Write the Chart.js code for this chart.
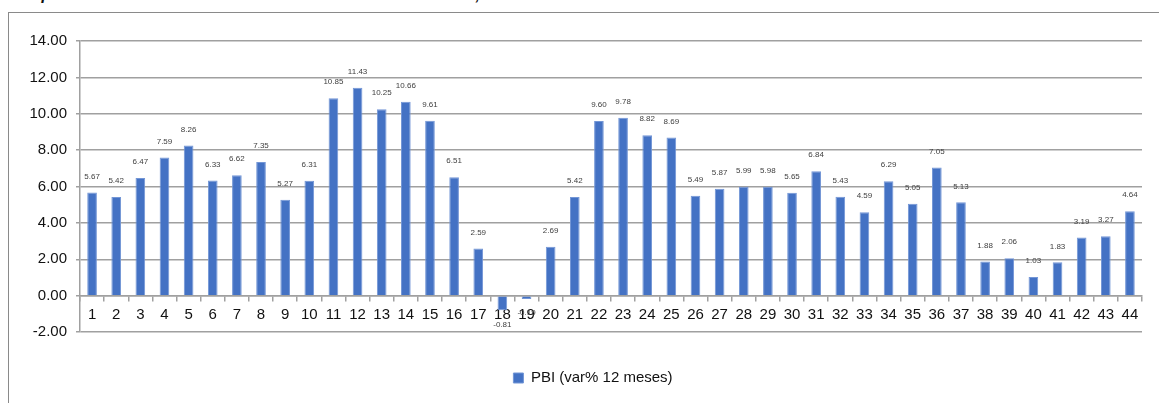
<!DOCTYPE html>
<html>
<head>
<meta charset="utf-8">
<script src="https://cdn.jsdelivr.net/npm/chart.js@4/dist/chart.umd.min.js"></script>
<style>
    html, body { margin: 0; padding: 0; background: #fff; overflow: hidden; }
    #wrap { position: relative; width: 1159px; height: 403px; }
    #frame { position: absolute; left: 8px; top: 12px; width: 1200px; height: 450px; border-left: 1px solid #8a8a8a; border-top: 1px solid #8a8a8a; }
    #title { position: absolute; left: 6px; top: -13px; font: italic bold 16px/16px "Liberation Sans", Arial, sans-serif; color: #111; white-space: nowrap; }
    #myChart { position: absolute; left: 0; top: 0; }
</style>
</head>
<body>
<div id="wrap">
    <div id="title">Comportamiento mensual de la actividad económica nacional, 2013 - 2016</div>
    <div id="frame"></div>
    <canvas id="myChart" width="1159" height="403"></canvas>
</div>
<script>
const months = ['1', '2', '3', '4', '5', '6', '7', '8', '9', '10', '11', '12', '13', '14', '15', '16', '17', '18', '19', '20', '21', '22',
    '23', '24', '25', '26', '27', '28', '29', '30', '31', '32', '33', '34', '35', '36', '37', '38', '39', '40', '41', '42', '43', '44']
const pbiVar = [5.67, 5.42, 6.47, 7.59, 8.26, 6.33, 6.62, 7.35, 5.27, 6.31, 10.85, 11.43, 10.25, 10.66, 9.61, 6.51, 2.59, -0.81, -0.19, 2.69, 5.42, 9.60,
    9.78, 8.82, 8.69, 5.49, 5.87, 5.99, 5.98, 5.65, 6.84, 5.43, 4.59, 6.29, 5.05, 7.05, 5.13, 1.88, 2.06, 1.03, 1.83, 3.19, 3.27, 4.64]
const seriesLabel = 'PBI (var% 12 meses)'
const yTicks = [-2, 0, 2, 4, 6, 8, 10, 12, 14]

const gridGray = '#a0a0a0';
const fontName = '"Liberation Sans", Arial, sans-serif';

// value labels above (or below for negatives) each bar
const barValues = {
    id: 'barValues',
    afterDatasetsDraw(chart) {
        let ctx = chart.ctx;
        ctx.save();
        ctx.font = '8px ' + fontName;
        ctx.fillStyle = '#404040';
        ctx.textAlign = 'center';
        ctx.textBaseline = 'middle';
        chart.getDatasetMeta(0).data.forEach(function (bar, i) {
            let v = pbiVar[i];
            let y = v >= 0 ? bar.y - 16 : bar.y + 14;
            ctx.fillText(v.toFixed(2), bar.x, y);
        });
        ctx.restore();
    }
};

// legend sits a little right of the canvas centre in the original
const legendShift = {
    id: 'legendShift',
    afterLayout(chart) {
        chart.legend.left += 22;
        chart.legend.right += 22;
    }
};

ctx = document.getElementById('myChart');
var chart = new Chart(ctx, {
    type: 'bar',
    data: {
        labels: months,
        datasets: [{
            label: seriesLabel,
            data: pbiVar,
            backgroundColor: '#4472c4',
            borderColor: '#7396d6',
            borderWidth: 1,
            categoryPercentage: 1,
            barPercentage: 0.4
        }]
    },
    options: {
        responsive: false,
        animation: false,
        layout: {
            padding: { top: 41, bottom: 7.5, left: 0, right: 17 }
        },
        scales: {
            x: {
                position: { y: 0 },
                offset: true,
                grid: {
                    offset: true,
                    drawOnChartArea: false,
                    drawTicks: true,
                    tickLength: 5,
                    color: gridGray,
                    lineWidth: 1.5
                },
                border: { display: true, color: gridGray, width: 1.5 },
                ticks: {
                    autoSkip: false,
                    maxRotation: 0,
                    padding: 5,
                    color: '#111',
                    font: { family: fontName, size: 15 }
                }
            },
            y: {
                min: yTicks[0],
                max: yTicks[yTicks.length - 1],
                afterBuildTicks: function (scale) {
                    scale.ticks = yTicks.map(v => ({ value: v }));
                },
                afterFit: function (scale) {
                    scale.width = 80;
                },
                grid: {
                    color: gridGray,
                    lineWidth: 1.5,
                    drawTicks: true,
                    tickLength: 4
                },
                border: { display: true, color: gridGray, width: 1.5 },
                ticks: {
                    padding: 9,
                    color: '#111',
                    font: { family: fontName, size: 15 },
                    callback: function (v) { return Number(v).toFixed(2); }
                }
            }
        },
        plugins: {
            legend: {
                position: 'bottom',
                labels: {
                    boxWidth: 10,
                    boxHeight: 10,
                    padding: 38.5,
                    color: '#111',
                    font: { family: fontName, size: 15 }
                }
            },
            tooltip: { enabled: false }
        }
    },
    plugins: [barValues, legendShift]
});
</script>
</body>
</html>
